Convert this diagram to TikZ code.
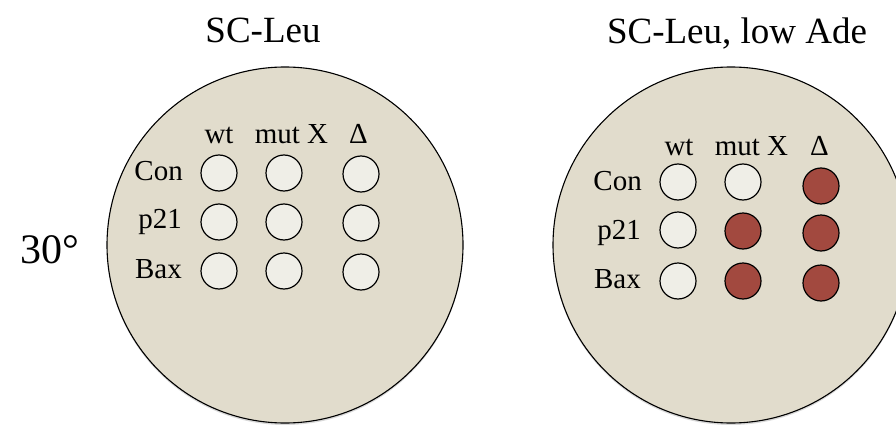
\documentclass[tikz,border=0pt]{standalone}
\usepackage{fontspec}
\setmainfont{Liberation Serif}
\usetikzlibrary{shadows}
\definecolor{agar}{HTML}{E1DCCC}
\definecolor{nogrowth}{HTML}{EFEEE7}
\definecolor{redgrowth}{HTML}{A2493F}
\begin{document}
\begin{tikzpicture}[x=1pt,y=-1pt,
  plate/.style={circle, draw=black, line width=1.1pt, fill=agar,
    minimum size=356pt, inner sep=0pt,
    drop shadow={opacity=0.3, shadow xshift=0pt, shadow yshift=-2pt}},
  spot/.style={circle, draw=black, line width=1.2pt, minimum size=36pt, inner sep=0pt},
  pale/.style={spot, fill=nogrowth},
  red/.style={spot, fill=redgrowth},
  lbl/.style={font=\fontsize{29}{32}\selectfont, inner sep=0pt},
  ttl/.style={font=\fontsize{37}{42}\selectfont, inner sep=0pt}]
\useasboundingbox (0,0) rectangle (896,425);
\clip (0,0) rectangle (896,425);

% titles and temperature
\node[ttl, anchor=base] (t1) at (263,43) {SC-Leu};
\node[ttl, anchor=base] (t2) at (737,44) {SC-Leu, low Ade};
\node[font=\fontsize{42}{46}\selectfont, inner sep=0pt, anchor=base] (temp) at (50,263) {30°};

% plates
\node[plate] (p1) at (285,245) {};
\node[plate] (p2) at (731,245) {};

% plate 1: column and row labels
\node[lbl, anchor=base] (h1a) at (219,143) {wt};
\node[lbl, anchor=base] (h1b) at (291.5,143) {mut X};
\node[lbl, anchor=base] (h1c) at (358.5,143) {Δ};
\node[lbl, anchor=base east] (r1a) at (183,180) {Con};
\node[lbl, anchor=base east] (r1b) at (182,228) {p21};
\node[lbl, anchor=base east] (r1c) at (182,278) {Bax};

% plate 1: spots
\node[pale] (s11) at (219,173) {};
\node[pale] (s12) at (284,173) {};
\node[pale] (s13) at (361,174) {};
\node[pale] (s21) at (219,222) {};
\node[pale] (s22) at (284,222) {};
\node[pale] (s23) at (361,223) {};
\node[pale] (s31) at (219,271) {};
\node[pale] (s32) at (284,271) {};
\node[pale] (s33) at (361,272) {};

% plate 2: column and row labels
\node[lbl, anchor=base] (h2a) at (679,155) {wt};
\node[lbl, anchor=base] (h2b) at (751.5,155) {mut X};
\node[lbl, anchor=base] (h2c) at (819.5,155) {Δ};
\node[lbl, anchor=base east] (r2a) at (642,190) {Con};
\node[lbl, anchor=base east] (r2b) at (641,239) {p21};
\node[lbl, anchor=base east] (r2c) at (641,288) {Bax};

% plate 2: spots
\node[pale] (q11) at (678,182) {};
\node[pale] (q12) at (743,182) {};
\node[red]  (q13) at (821,186) {};
\node[pale] (q21) at (678,230) {};
\node[red]  (q22) at (743,231) {};
\node[red]  (q23) at (821,233) {};
\node[pale] (q31) at (678,281) {};
\node[red]  (q32) at (743,281) {};
\node[red]  (q33) at (821,283) {};
\end{tikzpicture}
\end{document}
